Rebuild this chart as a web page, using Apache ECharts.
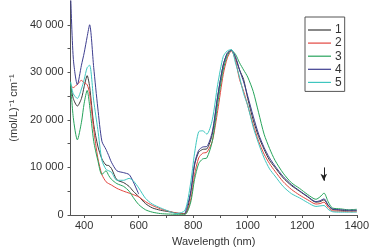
<!DOCTYPE html>
<html>
<head>
<meta charset="utf-8">
<script src="https://cdn.jsdelivr.net/npm/echarts@6/dist/echarts.min.js"></script>
<style>
  html, body { margin: 0; padding: 0; background: #fff; }
  #chart { width: 372px; height: 252px; }
</style>
</head>
<body>
<div id="chart"></div>
<script>
// wavelength grid (nm) shared by all spectra
var wavelengths = [350, 360, 375, 390, 400, 411, 420, 435, 450, 465, 480, 490, 500, 520, 545, 565, 580, 600, 625, 650,
    680, 710, 740, 770, 790, 805, 820, 835, 850, 870, 890, 910, 925, 940, 955, 970, 985, 1000, 1020, 1040,
    1060, 1080, 1100, 1130, 1160, 1190, 1220, 1250, 1265, 1280, 1295, 1310, 1340, 1370, 1400];

var names = ['1', '2', '3', '4', '5'];
var colors = ['#3a3a3a', '#e2453f', '#27a45c', '#3d3d8f', '#3ec6bf'];

var spec1 = [27500, 24500, 22900, 24500, 27000, 29300, 27000, 19000, 14500, 11800, 10500, 10400, 9800, 7400, 6800, 6000, 5000, 3900, 2400, 1500,
    1000, 700, 400, 300, 4500, 10500, 13200, 13800, 13900, 17000, 25000, 31500, 34000, 34700, 33000, 30500, 28500, 24500, 20000, 16500,
    13800, 11500, 10000, 7800, 6200, 5000, 3800, 2700, 2800, 3200, 2000, 1200, 1000, 900, 900];
var spec2 = [27200, 26800, 27500, 28300, 27800, 27400, 25500, 18000, 12000, 8500, 7000, 6600, 6300, 5600, 5000, 4600, 4300, 3800, 2800, 2000,
    1300, 800, 400, 200, 3000, 8500, 12000, 13000, 13200, 15500, 22000, 29500, 33000, 34500, 32500, 28500, 26000, 23000, 19000, 15500,
    12800, 10800, 9200, 7000, 5400, 4200, 3200, 2300, 2400, 2700, 1600, 900, 800, 700, 700];
var spec3 = [28000, 20500, 15800, 19500, 23500, 26200, 23000, 15500, 11500, 8500, 9300, 8300, 7500, 6600, 6000, 5000, 3700, 2200, 1100, 600,
    300, 200, 150, 150, 2500, 7500, 10800, 11800, 12000, 15500, 23500, 30500, 33500, 34600, 33800, 32000, 30500, 29000, 26000, 21500,
    17000, 14000, 11500, 8800, 6800, 5600, 4300, 3300, 3800, 4600, 2800, 1500, 1300, 1100, 1200];
var spec4 = [47000, 33000, 27400, 31500, 34100, 37500, 40000, 31000, 22500, 15500, 13800, 12500, 11100, 9300, 8900, 8500, 7000, 4400, null, null,
    null, null, null, 300, 4500, 10800, 13600, 14300, 14400, 17500, 25000, 31500, 34000, 34600, 33300, 30500, 28000, 25000, 20800, 17000,
    14200, 12000, 10300, 8100, 6400, 5100, 3900, 2800, 3000, 3400, 2100, 1300, 1100, 1000, 1000];
var spec5 = [28000, 25500, 24500, 26500, 28500, 31000, 31500, 24000, 18000, 11500, 9600, 9300, 9000, 7300, 7300, 7700, 7200, 5700, 3500, 2300,
    1500, 800, 300, 1000, 6500, 13000, 17500, 17700, 17000, 20000, 27500, 33300, 34500, 34800, 32000, 29000, 25500, 23000, 18500, 15000,
    12000, 9700, 8200, 6000, 4500, 3600, 2600, 1800, 1900, 2000, 1200, 700, 600, 600, 600];
var spectra = [spec1, spec2, spec3, spec4, spec5];

// axis ticks / labels
var xLabels = [400, 600, 800, 1000, 1200, 1400];
var xTicks = [400, 500, 600, 700, 800, 900, 1000, 1100, 1200, 1300, 1400];
var yLabels = [0, 10000, 20000, 30000, 40000];
var yTicks = [0, 5000, 10000, 15000, 20000, 25000, 30000, 35000, 40000];

// arrow marking the 1270 nm band
var arrowX = 1279;
var arrowY = [10000, 7200];

function pairs(ys) {
    return wavelengths.map(function (x, i) { return [x, ys[i]]; });
}

function fmtThousands(v) {
    return String(v).replace(/\B(?=(\d{3})+(?!\d))/g, ' ');
}

var series = names.map(function (n, i) {
    return {
        name: n,
        type: 'line',
        data: pairs(spectra[i]),
        symbol: 'none',
        smooth: 0.25,
        connectNulls: false,
        lineStyle: { color: colors[i], width: 1 },
        itemStyle: { color: colors[i] },
        z: 2 + i
    };
});
series[2].markLine = {
    silent: true,
    symbol: ['none', 'arrow'],
    symbolSize: [5, 7],
    label: { show: false },
    lineStyle: { color: '#222', width: 1, type: 'solid' },
    data: [[{ coord: [arrowX, arrowY[0]] }, { coord: [arrowX, arrowY[1]] }]]
};

var chart = echarts.init(document.getElementById('chart'), null, { renderer: 'canvas' });
chart.setOption({
    animation: false,
    textStyle: { fontFamily: 'Liberation Sans, Arial, sans-serif' },
    grid: { left: 63, right: 15, top: 1, bottom: 36 },
    legend: {
        orient: 'vertical',
        left: 305,
        top: 17,
        icon: 'rect',
        padding: [7, 3, 3, 3],
        itemWidth: 23,
        itemHeight: 1.2,
        itemGap: 1.1,
        borderColor: '#555',
        borderWidth: 1,
        textStyle: { fontSize: 12, color: '#333', padding: [0, 0, 0, -1] },
        data: names
    },
    xAxis: {
        type: 'value',
        min: 350,
        max: 1400,
        name: 'Wavelength (nm)',
        nameLocation: 'middle',
        nameGap: 21,
        nameTextStyle: { fontSize: 11, color: '#333' },
        axisLine: { lineStyle: { color: '#555', width: 1 } },
        axisTick: { show: true, length: 3, customValues: xTicks, lineStyle: { color: '#555' } },
        axisLabel: { customValues: xLabels, fontSize: 11, color: '#333', margin: 5, formatter: function (v) { return String(v); } },
        splitLine: { show: false }
    },
    yAxis: {
        type: 'value',
        min: 0,
        max: 45000,
        name: '(mol/L)\u207B\u00B9 cm\u207B\u00B9',
        nameLocation: 'middle',
        nameGap: 51,
        nameRotate: 90,
        nameTextStyle: { fontSize: 11, color: '#333' },
        axisLine: { show: true, lineStyle: { color: '#555', width: 1 } },
        axisTick: { show: true, length: 3, customValues: yTicks, lineStyle: { color: '#555' } },
        axisLabel: { customValues: yLabels, fontSize: 11, color: '#333', margin: 7, formatter: fmtThousands },
        splitLine: { show: false }
    },
    series: series
});
</script>
</body>
</html>
